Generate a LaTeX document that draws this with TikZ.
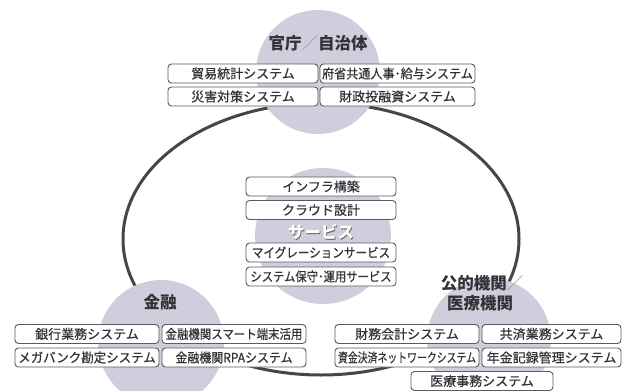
\documentclass[tikz,border=0pt]{standalone}
\usepackage{fontspec}
\usepackage{graphicx}
\newfontfamily\jp{Noto Sans CJK JP}
\newfontfamily\jpm[FakeBold=0.5]{Noto Sans CJK JP}
\definecolor{circ}{RGB}{206,206,220}
\definecolor{ringc}{RGB}{70,70,72}
\definecolor{boxline}{RGB}{90,90,95}
\definecolor{txt}{RGB}{50,50,55}
\definecolor{slashc}{RGB}{150,150,158}
\newcommand{\lslash}{{\mdseries\color{slashc}／}}
\tikzset{
  sysbox/.style={draw=boxline, fill=white, rounded corners=3.5pt, line width=0.9pt,
    minimum height=19pt, inner sep=0pt, text=txt, font=\jpm\fontsize{13}{13}\selectfont},
  grouplabel/.style={text=txt, font=\jp\bfseries\fontsize{16.5}{19}\selectfont, inner sep=0pt, align=center},
  bubble/.style={fill=circ, draw=none}
}
\begin{document}
\begin{tikzpicture}[x=1pt,y=-1pt]
\useasboundingbox (0,0) rectangle (624,391);
% ring
\draw[ringc, line width=3pt] (321,239) ellipse [x radius=198, y radius=136];
% bubbles
\fill[bubble] (318,72) circle [radius=62];
\fill[bubble] (323,236) circle [radius=68];
\fill[bubble] (161,343) circle [radius=63];
\fill[bubble] (489,340) circle [radius=62];
% top group
\node[grouplabel] (gov) at (318,43) {官庁\lslash 自治体};
\node[sysbox, minimum width=150pt] (t1) at (243,73.5) {貿易統計システム};
\node[sysbox, minimum width=155pt] (t2) at (397.5,73.5) {\scalebox{0.93}[1]{府省共通人事･給与システム}};
\node[sysbox, minimum width=150pt] (t3) at (243,96.5) {災害対策システム};
\node[sysbox, minimum width=155pt] (t4) at (397.5,96.5) {財政投融資システム};
% service group
\node[sysbox, minimum width=150pt] (s1) at (321,186.5) {インフラ構築};
\node[sysbox, minimum width=150pt] (s2) at (321,210) {クラウド設計};
\node[grouplabel, text=gray!75!black] (svcsh) at (321.9,232.9) {サービス};
\node[grouplabel, text=white] (svc) at (321,232) {サービス};
\node[sysbox, minimum width=150pt] (s3) at (321,252.5) {\scalebox{0.89}[1]{マイグレーションサービス}};
\node[sysbox, minimum width=150pt] (s4) at (321,276.5) {\scalebox{0.87}[1]{システム保守･運用サービス}};
% finance group
\node[grouplabel] (fin) at (160,302) {金融};
\node[sysbox, minimum width=144pt] (f1) at (87,334) {銀行業務システム};
\node[sysbox, minimum width=144pt] (f2) at (234,334) {\scalebox{0.88}[1]{金融機関スマート端末活用}};
\node[sysbox, minimum width=144pt] (f3) at (87,357.5) {\scalebox{0.96}[1]{メガバンク勘定システム}};
\node[sysbox, minimum width=144pt] (f4) at (234,357.5) {\scalebox{0.92}[1]{金融機関RPAシステム}};
% public group
\node[grouplabel] (pub1) at (482,283) {公的機関\lslash};
\node[grouplabel] (pub2) at (480,303) {医療機関};
\node[sysbox, minimum width=144pt] (p1) at (407,334) {財務会計システム};
\node[sysbox, minimum width=139pt] (p2) at (551.5,334) {共済業務システム};
\node[sysbox, minimum width=144pt] (p3) at (407,357.5) {\scalebox{0.76}[1]{資金決済ネットワークシステム}};
\node[sysbox, minimum width=139pt] (p4) at (551.5,357.5) {年金記録管理システム};
\node[sysbox, minimum width=142pt] (p5) at (482,381) {医療事務システム};
\end{tikzpicture}
\end{document}
